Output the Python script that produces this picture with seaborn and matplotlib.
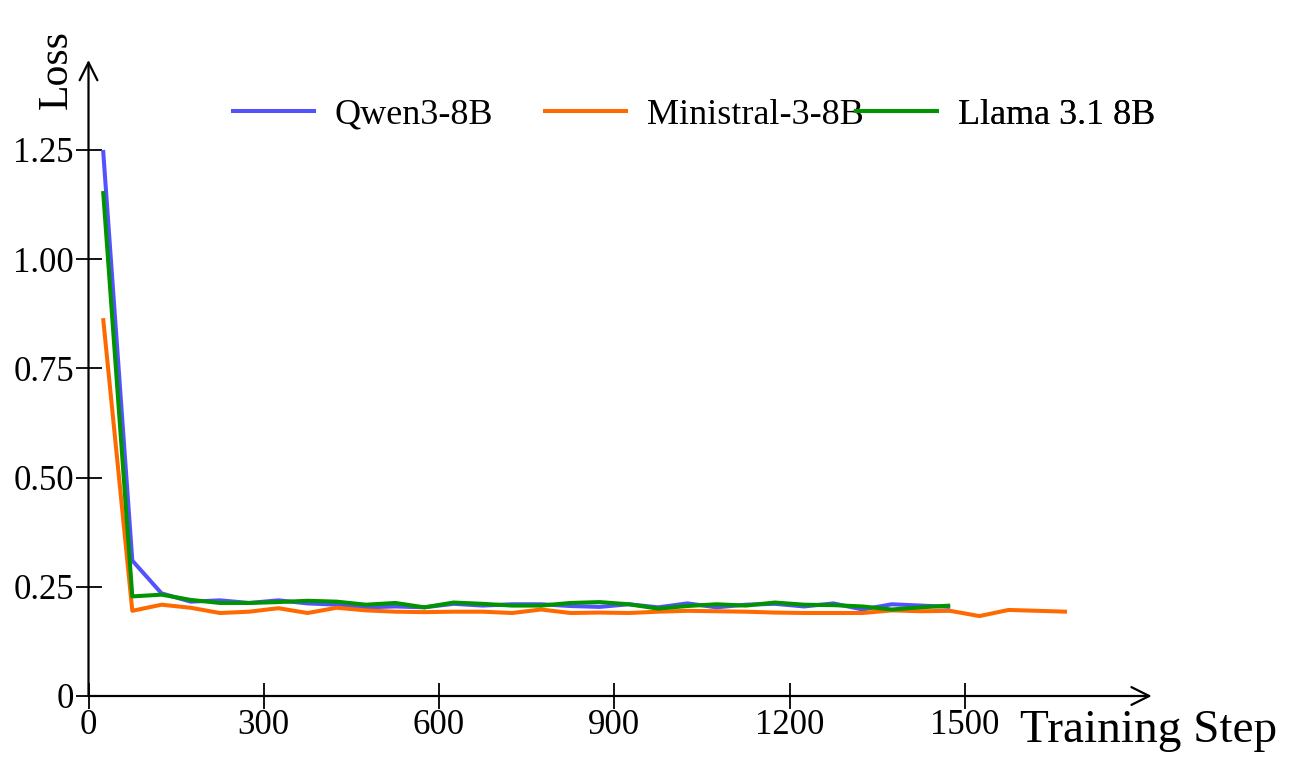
import numpy as np
import pandas as pd
import matplotlib
matplotlib.use("Agg")
import matplotlib.pyplot as plt
import seaborn as sns

# ---- data ----
steps_long = list(range(25, 1676, 50))   # Ministral runs longer
steps_short = list(range(25, 1476, 50))

qwen_loss = [1.25, 0.31, 0.235, 0.216, 0.219, 0.213, 0.219, 0.212, 0.209, 0.203,
             0.205, 0.203, 0.211, 0.207, 0.210, 0.210, 0.206, 0.204, 0.210, 0.203,
             0.212, 0.203, 0.209, 0.211, 0.205, 0.212, 0.198, 0.210, 0.207, 0.204]
ministral_loss = [0.865, 0.195, 0.209, 0.202, 0.190, 0.193, 0.201, 0.190, 0.202, 0.196,
                  0.193, 0.192, 0.193, 0.193, 0.190, 0.198, 0.190, 0.191, 0.190, 0.193,
                  0.195, 0.194, 0.193, 0.191, 0.190, 0.190, 0.190, 0.196, 0.194, 0.195,
                  0.183, 0.197, 0.195, 0.193]
llama_loss = [1.156, 0.228, 0.232, 0.220, 0.213, 0.213, 0.215, 0.218, 0.216, 0.209,
              0.213, 0.203, 0.214, 0.211, 0.207, 0.207, 0.213, 0.215, 0.210, 0.200,
              0.206, 0.210, 0.207, 0.214, 0.209, 0.208, 0.205, 0.198, 0.203, 0.207]

models = ["Qwen3-8B", "Ministral-3-8B", "Llama 3.1 8B"]
colors = ["#5252ff", "#ff6a00", "#009400"]
xticks = [0, 300, 600, 900, 1200, 1500]
yticks = [0, 0.25, 0.50, 0.75, 1.00, 1.25]
ytick_labels = ["0", "0.25", "0.50", "0.75", "1.00", "1.25"]

df = pd.concat([
    pd.DataFrame({"step": steps_short, "loss": qwen_loss, "model": models[0]}),
    pd.DataFrame({"step": steps_long, "loss": ministral_loss, "model": models[1]}),
    pd.DataFrame({"step": steps_short, "loss": llama_loss, "model": models[2]}),
])

sns.set_style("white")
plt.rcParams["font.family"] = ["Liberation Serif", "DejaVu Serif"]
plt.rcParams["text.color"] = "black"
plt.rcParams["axes.labelcolor"] = "black"
plt.rcParams["xtick.color"] = "black"
plt.rcParams["ytick.color"] = "black"

W, H = 1297, 772
fig = plt.figure(figsize=(W / 100, H / 100), dpi=100)
x0, y0, x1, y1 = 88.5, 696, 1151.7, 60
ax = fig.add_axes([x0 / W, (H - y0) / H, (x1 - x0) / W, (y0 - y1) / H])

sns.lineplot(data=df, x="step", y="loss", hue="model", hue_order=models,
             palette=colors, linewidth=2.9, ax=ax, legend=False, sort=False)
for ln in ax.lines:
    ln.set_solid_joinstyle("round")
    ln.set_solid_capstyle("butt")

ax.set_xlim(0, 1820)
ax.set_ylim(0, 1.456)

for s in ax.spines.values():
    s.set_visible(False)

arrow_kw = dict(arrowstyle="->", lw=1.6, color="black", mutation_scale=32,
                shrinkA=0, shrinkB=0)
ax.annotate("", xy=(1, 0), xytext=(0, 0), xycoords="axes fraction",
            textcoords="axes fraction", arrowprops=arrow_kw, annotation_clip=False)
ax.annotate("", xy=(0, 1), xytext=(0, 0), xycoords="axes fraction",
            textcoords="axes fraction", arrowprops=arrow_kw, annotation_clip=False)

ax.set_xticks(xticks)
ax.set_xticklabels([str(v) for v in xticks])
ax.set_yticks(yticks)
ax.set_yticklabels(ytick_labels)
ax.tick_params(axis="both", direction="inout", length=19, width=1.3,
               labelsize=25, colors="black", bottom=True, left=True)
ax.tick_params(axis="x", pad=0)
ax.tick_params(axis="y", pad=1)

ax.set_xlabel("Training Step", fontsize=34, ha="left", va="center", color="black")
ax.xaxis.set_label_coords((1020 - x0) / (x1 - x0), (y0 - 731) / (y0 - y1))
ax.set_ylabel("Loss", fontsize=30, rotation=90, ha="center", va="center", color="black")
ax.yaxis.set_label_coords((57 - x0) / (x1 - x0), (y0 - 70) / (y0 - y1))

# legend: three entries at fixed positions
fs = 26
fs_px = fs * 100 / 72
handle_starts = [231, 543, 854]
leg_y = (y0 - 115) / (y0 - y1)
for line, name, hx in zip(ax.lines[:3], models, handle_starts):
    leg = ax.legend([line], [name], loc="center left",
                    bbox_to_anchor=((hx - x0) / (x1 - x0), leg_y),
                    frameon=False, fontsize=fs, borderpad=0, borderaxespad=0,
                    handlelength=85 / fs_px, handletextpad=19 / fs_px)
    for t in leg.get_texts():
        t.set_color("black")
    ax.add_artist(leg)

fig.savefig("out.png", dpi=100, facecolor="white")
